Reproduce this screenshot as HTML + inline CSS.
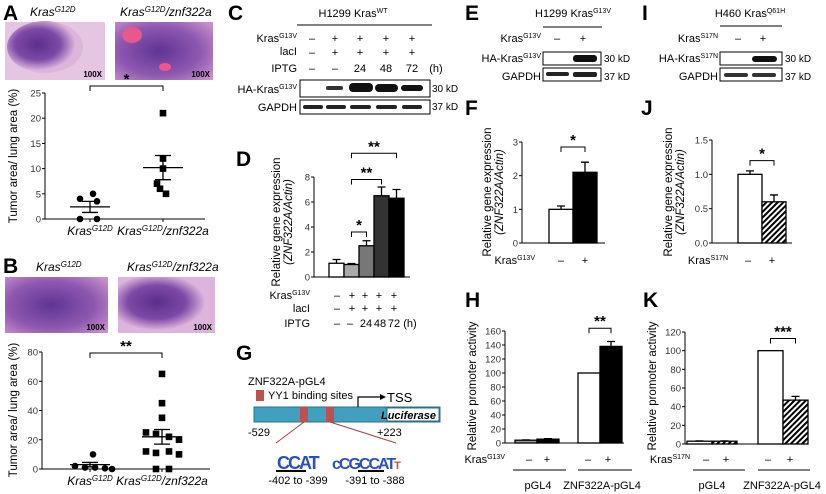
<!DOCTYPE html>
<html><head><meta charset="utf-8"><style>
html,body{margin:0;padding:0;background:#fff;}
svg{display:block;font-family:"Liberation Sans",Arial,sans-serif;}
.pl{font-size:21px;font-weight:bold;}
.tk{font-size:9.5px;fill:#333;}
.lb{font-size:11px;}
.yl{font-size:11.5px;}
</style></head><body>
<svg id="fig" width="826" height="494" viewBox="0 0 826 494" xmlns="http://www.w3.org/2000/svg">
<defs>
<pattern id="hatch" patternUnits="userSpaceOnUse" width="4" height="4" patternTransform="rotate(45)">
<rect width="4" height="4" fill="#fff"/><rect width="2" height="4" fill="#000"/></pattern>
<radialGradient id="tumor1" cx="0.4" cy="0.45" r="0.5"><stop offset="0" stop-color="#5a2f8c"/><stop offset="0.6" stop-color="#7d4aa6"/><stop offset="1" stop-color="#dcb4dc"/></radialGradient>
<radialGradient id="tumor2" cx="0.45" cy="0.5" r="0.7"><stop offset="0" stop-color="#5e3494"/><stop offset="0.6" stop-color="#8e58b0"/><stop offset="1" stop-color="#c890cc"/></radialGradient>
</defs>

<!-- Panel A -->
<g>
<text class="pl" x="3" y="20">A</text>
<text x="30" y="16" font-size="12" font-style="italic">Kras<tspan dy="-4" font-size="8">G12D</tspan></text>
<text x="120" y="16" font-size="12" font-style="italic">Kras<tspan dy="-4" font-size="8">G12D</tspan><tspan dy="4">/znf322a</tspan></text>
<rect x="5" y="22" width="100" height="58" fill="#e5c6e2"/>
<ellipse cx="45" cy="47" rx="38" ry="26" fill="url(#tumor1)"/>
<text x="102" y="77" font-size="8" font-weight="bold" text-anchor="end">100X</text>
<rect x="115" y="22" width="98" height="58" fill="url(#tumor2)"/>
<ellipse cx="132" cy="35" rx="10" ry="8" fill="#e8588a"/>
<ellipse cx="165" cy="67" rx="6" ry="4" fill="#e8588a"/>
<text x="210" y="77" font-size="8" font-weight="bold" text-anchor="end">100X</text>
<text class="yl" transform="translate(17,156) rotate(-90)" text-anchor="middle">Tumor area/ lung area (%)</text>
<g id="chartA"></g>
</g>

<!-- Panel B -->
<g>
<text class="pl" x="3" y="273">B</text>
<text x="36" y="271" font-size="12" font-style="italic">Kras<tspan dy="-4" font-size="8">G12D</tspan></text>
<text x="127" y="271" font-size="12" font-style="italic">Kras<tspan dy="-4" font-size="8">G12D</tspan><tspan dy="4">/znf322a</tspan></text>
<rect x="5" y="277" width="103" height="56" fill="url(#tumor2)"/>
<text x="105" y="330" font-size="8" font-weight="bold" text-anchor="end">100X</text>
<rect x="118" y="277" width="97" height="56" fill="url(#tumor1)"/>
<text x="212" y="330" font-size="8" font-weight="bold" text-anchor="end">100X</text>
<text class="yl" transform="translate(17,410) rotate(-90)" text-anchor="middle">Tumor area/ lung area (%)</text>
<g id="chartB"></g>
</g>

<!-- Panel C -->
<g font-size="11">
<text class="pl" x="228" y="20">C</text>
<text x="353" y="17" text-anchor="middle">H1299 Kras<tspan dy="-4" font-size="7">WT</tspan></text>
<line x1="297" y1="25" x2="432" y2="25" stroke="#000"/>
<text x="297" y="42" text-anchor="end">Kras<tspan dy="-4" font-size="7">G13V</tspan></text>
<text x="297" y="55" text-anchor="end">lacI</text>
<text x="297" y="72" text-anchor="end">IPTG</text>
<g font-size="11" text-anchor="middle">
<text x="312" y="42">–</text><text x="335" y="42">+</text><text x="360" y="42">+</text><text x="386" y="42">+</text><text x="412" y="42">+</text>
<text x="312" y="56">–</text><text x="335" y="56">+</text><text x="360" y="56">+</text><text x="386" y="56">+</text><text x="412" y="56">+</text>
<text x="312" y="72">–</text><text x="335" y="72">–</text><text x="360" y="72">24</text><text x="386" y="72">48</text><text x="412" y="72">72</text>
<text x="436" y="72">(h)</text></g>
<text x="297" y="93" text-anchor="end">HA-Kras<tspan dy="-4" font-size="7">G13V</tspan></text>
<text x="297" y="111" text-anchor="end">GAPDH</text>
<rect x="300" y="80" width="130" height="17" fill="#fff" stroke="#000"/>
<rect x="326" y="86" width="17" height="4" rx="2" fill="#333"/><rect x="349" y="83" width="24" height="9" rx="4" fill="#111"/><rect x="375" y="84" width="23" height="8" rx="4" fill="#111"/><rect x="401" y="85" width="22" height="6" rx="3" fill="#111"/>
<rect x="300" y="100" width="130" height="14" fill="#fff" stroke="#000"/>
<rect x="303" y="105" width="20" height="4" rx="2" fill="#222"/><rect x="326" y="105" width="20" height="4" rx="2" fill="#222"/><rect x="350" y="105" width="21" height="4" rx="2" fill="#222"/><rect x="376" y="105" width="21" height="4" rx="2" fill="#222"/><rect x="402" y="105" width="20" height="4" rx="2" fill="#222"/>
<text x="432" y="92" font-size="10">30 kD</text><text x="432" y="110" font-size="10">37 kD</text>
</g>

<!-- Panel D -->
<g>
<text class="pl" x="236" y="166">D</text>
<text class="yl" transform="translate(280,222) rotate(-90)" text-anchor="middle">Relative gene expression</text>
<text class="yl" transform="translate(292,222) rotate(-90)" text-anchor="middle" font-style="italic">(ZNF322A/Actin)</text>
<g id="chartD"></g>
<g font-size="11">
<text x="310" y="299" text-anchor="end">Kras<tspan dy="-4" font-size="7">G13V</tspan></text>
<text x="310" y="312" text-anchor="end">lacI</text>
<text x="310" y="327" text-anchor="end">IPTG</text>
<g text-anchor="middle">
<text x="337" y="299">–</text><text x="352" y="299">+</text><text x="365" y="299">+</text><text x="379" y="299">+</text><text x="394" y="299">+</text>
<text x="337" y="312">–</text><text x="352" y="312">+</text><text x="365" y="312">+</text><text x="379" y="312">+</text><text x="394" y="312">+</text>
<text x="337" y="327">–</text><text x="350" y="327">–</text><text x="366" y="327">24</text><text x="380" y="327">48</text><text x="394" y="327">72</text><text x="410" y="327">(h)</text>
</g></g>
</g>

<!-- Panel G -->
<g>
<text class="pl" x="236" y="360">G</text>
<text x="248" y="385" font-size="11">ZNF322A-pGL4</text>
<rect x="256" y="390" width="8" height="11" fill="#c0504d"/>
<text x="268" y="399" font-size="11">YY1 binding sites</text>
<rect x="254" y="407" width="186" height="15" fill="#41a0c0" stroke="#2b6f86"/>
<rect x="387" y="408" width="52" height="13" fill="#fff" stroke="#2b6f86"/>
<text x="436" y="419" font-size="11" font-weight="bold" font-style="italic" text-anchor="end">Luciferase</text>
<rect x="300" y="407" width="8" height="15" fill="#c0504d"/>
<rect x="326" y="407" width="8" height="15" fill="#c0504d"/>
<polyline points="358,407 358,397 380,397" fill="none" stroke="#000" stroke-width="1.2"/>
<polygon points="380,394 386,397 380,400" fill="#000"/>
<text x="387" y="402" font-size="13">TSS</text>
<text x="248" y="436" font-size="11">-529</text>
<text x="377" y="436" font-size="11">+223</text>
<line x1="304" y1="422" x2="276" y2="443" stroke="#a04040"/>
<line x1="330" y1="422" x2="396" y2="443" stroke="#a04040"/>
<text x="277" y="469" font-size="18" fill="#2a4fc0" font-weight="bold" letter-spacing="-2">CCAT</text>
<text x="332" y="469" font-size="16" fill="#2a4fc0" font-weight="bold" letter-spacing="-2">cCGCCAT<tspan fill="#c0504d" font-size="11">T</tspan></text>
<line x1="276" y1="471" x2="306" y2="471" stroke="#000" stroke-width="2"/>
<line x1="358" y1="471" x2="384" y2="471" stroke="#000" stroke-width="2"/>
<text x="298" y="484" font-size="11" text-anchor="middle">-402 to -399</text>
<text x="375" y="484" font-size="11" text-anchor="middle">-391 to -388</text>
</g>

<!-- Panel E -->
<g font-size="11">
<text class="pl" x="465" y="20">E</text>
<text x="573" y="17" text-anchor="middle">H1299 Kras<tspan dy="-4" font-size="7">G13V</tspan></text>
<line x1="543" y1="27" x2="602" y2="27" stroke="#000"/>
<text x="541" y="42" text-anchor="end">Kras<tspan dy="-4" font-size="7">G13V</tspan></text>
<text x="557" y="42" text-anchor="middle">–</text><text x="583" y="42" text-anchor="middle">+</text>
<text x="541" y="62" text-anchor="end">HA-Kras<tspan dy="-4" font-size="7">G13V</tspan></text>
<text x="541" y="80" text-anchor="end">GAPDH</text>
<rect x="543" y="52" width="58" height="13" fill="#fff" stroke="#000"/>
<rect x="573" y="55" width="24" height="7" rx="3" fill="#111"/>
<rect x="543" y="68" width="58" height="13" fill="#fff" stroke="#000"/>
<rect x="546" y="72" width="23" height="4" rx="2" fill="#222"/><rect x="573" y="72" width="24" height="5" rx="2" fill="#222"/>
<text x="604" y="62" font-size="10">30 kD</text><text x="604" y="80" font-size="10">37 kD</text>
</g>

<!-- Panel I -->
<g font-size="11">
<text class="pl" x="642" y="20">I</text>
<text x="750" y="17" text-anchor="middle">H460 Kras<tspan dy="-4" font-size="7">Q61H</tspan></text>
<line x1="720" y1="26" x2="782" y2="26" stroke="#000"/>
<text x="718" y="42" text-anchor="end">Kras<tspan dy="-4" font-size="7">S17N</tspan></text>
<text x="738" y="42" text-anchor="middle">–</text><text x="763" y="42" text-anchor="middle">+</text>
<text x="718" y="62" text-anchor="end">HA-Kras<tspan dy="-4" font-size="7">S17N</tspan></text>
<text x="718" y="80" text-anchor="end">GAPDH</text>
<rect x="720" y="52" width="62" height="13" fill="#fff" stroke="#000"/>
<rect x="752" y="56" width="25" height="6" rx="3" fill="#111"/>
<rect x="720" y="68" width="62" height="13" fill="#fff" stroke="#000"/>
<rect x="724" y="73" width="24" height="4" rx="2" fill="#333"/><rect x="752" y="73" width="24" height="4" rx="2" fill="#333"/>
<text x="785" y="62" font-size="10">30 kD</text><text x="785" y="80" font-size="10">37 kD</text>
</g>

<!-- Panel F -->
<g>
<text class="pl" x="465" y="115">F</text>
<text class="yl" transform="translate(491,192) rotate(-90)" text-anchor="middle">Relative gene expression</text>
<text class="yl" transform="translate(503,192) rotate(-90)" text-anchor="middle" font-style="italic">(ZNF322A/Actin)</text>
<g id="chartF"></g>
<text x="535" y="264" font-size="11" text-anchor="end">Kras<tspan dy="-4" font-size="7">G13V</tspan></text>
<text x="561" y="264" font-size="11" text-anchor="middle">–</text><text x="585" y="264" font-size="11" text-anchor="middle">+</text>
</g>

<!-- Panel J -->
<g>
<text class="pl" x="641" y="115">J</text>
<text class="yl" transform="translate(672,192) rotate(-90)" text-anchor="middle">Relative gene expression</text>
<text class="yl" transform="translate(684,192) rotate(-90)" text-anchor="middle" font-style="italic">(ZNF322A/Actin)</text>
<g id="chartJ"></g>
<text x="728" y="264" font-size="11" text-anchor="end">Kras<tspan dy="-4" font-size="7">S17N</tspan></text>
<text x="748" y="264" font-size="11" text-anchor="middle">–</text><text x="772" y="264" font-size="11" text-anchor="middle">+</text>
</g>

<!-- Panel H -->
<g>
<text class="pl" x="465" y="307">H</text>
<text class="yl" transform="translate(476,386) rotate(-90)" text-anchor="middle">Relative promoter activity</text>
<g id="chartH"></g>
<g font-size="11">
<text x="505" y="463" text-anchor="end">Kras<tspan dy="-4" font-size="7">G13V</tspan></text>
<g text-anchor="middle"><text x="529" y="463">–</text><text x="547" y="463">+</text><text x="588" y="463">–</text><text x="608" y="463">+</text></g>
<line x1="513" y1="470" x2="566" y2="470" stroke="#000"/><line x1="578" y1="470" x2="632" y2="470" stroke="#000"/>
<text x="538" y="489" text-anchor="middle">pGL4</text><text x="602" y="489" text-anchor="middle">ZNF322A-pGL4</text>
</g>
</g>

<!-- Panel K -->
<g>
<text class="pl" x="643" y="307">K</text>
<text class="yl" transform="translate(656,386) rotate(-90)" text-anchor="middle">Relative promoter activity</text>
<g id="chartK"></g>
<g font-size="11">
<text x="690" y="463" text-anchor="end">Kras<tspan dy="-4" font-size="7">S17N</tspan></text>
<g text-anchor="middle"><text x="706" y="463">–</text><text x="726" y="463">+</text><text x="768" y="463">–</text><text x="790" y="463">+</text></g>
<line x1="693" y1="470" x2="745" y2="470" stroke="#000"/><line x1="758" y1="470" x2="810" y2="470" stroke="#000"/>
<text x="712" y="489" text-anchor="middle">pGL4</text><text x="782" y="489" text-anchor="middle">ZNF322A-pGL4</text>
</g>
</g>
</svg>

<script>
// ---- data ----
const A_categories = ["Kras<G12D>", "Kras<G12D>/znf322a"];
const A_kras = [5, 4, 3.5, 0, 0];
const A_znf = [21, 12, 10, 7, 6, 5];
const A_mean = [2.4, 10.2];
const A_sem = [1.1, 2.4];
const A_ticks = [0, 5, 10, 15, 20, 25];

const B_kras = [10, 2, 1, 1, 0.5, 0];
const B_znf = [65, 45, 35, 25, 24, 22, 20, 12, 12, 11, 10, 0, 0];
const B_mean = [3, 22];
const B_sem = [1.5, 5];
const B_ticks = [0, 20, 40, 60, 80];

const D_values = [1.1, 1.0, 2.5, 6.5, 6.3];
const D_err = [0.3, 0.08, 0.4, 0.7, 0.7];
const D_ticks = [0, 2, 4, 6, 8];

const F_values = [1.0, 2.1];
const F_err = [0.1, 0.3];
const F_ticks = [0, 1, 2, 3];

const J_values = [1.0, 0.6];
const J_err = [0.05, 0.1];
const J_ticks = ["0.0", "0.5", "1.0", "1.5"];

const H_values = [4, 5.5, 100, 138];
const H_err = [0.5, 0.8, 0, 7];
const H_ticks = [0, 20, 40, 60, 80, 100, 120, 140, 160];

const K_values = [3, 3, 100, 47];
const K_err = [0.3, 0.3, 0, 4];
const K_ticks = [0, 20, 40, 60, 80, 100, 120];

const NS = "http://www.w3.org/2000/svg";
function mk(parent, tag, attrs) {
  const e = document.createElementNS(NS, tag);
  for (const k in attrs) e.setAttribute(k, attrs[k]);
  parent.appendChild(e);
  return e;
}
function linScale(d0, d1, r0, r1) { return v => r0 + (v - d0) / (d1 - d0) * (r1 - r0); }

function yAxis(g, x, yS, ticks, prefix) {
  const ax = mk(g, "line", {x1: x, x2: x, y1: yS(+ticks[ticks.length-1]), y2: yS(+ticks[0]), stroke: "#000"});
  
  
  ticks.forEach(t => {
    const y = yS(+t);
    mk(g, "line", {x1: x - 3, x2: x, y1: y, y2: y, stroke: "#000"});
    const tx = mk(g, "text", {x: x - 4, y: y + 3.5, "text-anchor": "end", class: "tk"});
    tx.textContent = t;
    
    
  });
}
function bracket(g, x1, x2, y, label, prefix) {
  const p = mk(g, "path", {d: `M${x1},${y+5} V${y} H${x2} V${y+5}`, fill: "none", stroke: "#000"});
  
  
  const t = mk(g, "text", {x: (x1 + x2) / 2, y: y - 2, "text-anchor": "middle", "font-size": 15, "font-weight": "bold"});
  t.textContent = label;
  
  
}

function barChart(id, opts) {
  const g = document.getElementById(id);
  const yS = linScale(0, opts.max, opts.y0, opts.y1);
  mk(g, "line", {x1: opts.ax, x2: opts.axEnd, y1: opts.y0, y2: opts.y0, stroke: "#000"});
  yAxis(g, opts.ax, yS, opts.ticks, opts.prefix);
  const xs = [];
  opts.values.forEach((v, i) => {
    const x = opts.start + i * opts.w + (opts.groupGap && i >= 2 ? opts.groupGap : 0);
    xs.push(x);
    const top = yS(v + opts.err[i]);
    if (opts.err[i] > 0) {
      const eb = mk(g, "path", {d: `M${x + opts.w/2},${yS(v)} V${top} M${x + opts.w/2 - 4},${top} H${x + opts.w/2 + 4}`, stroke: "#000", "stroke-width": 1.3, fill: "none"});
      
      
    }
    const r = mk(g, "rect", {x: x, y: yS(v), width: opts.w, height: opts.y0 - yS(v), fill: opts.fills[i], stroke: "#000", "stroke-width": 1.3});
    
    
  });
  (opts.brackets || []).forEach(b => {
    const yb = yS(b.at);
    bracket(g, xs[b.a] + opts.w/2, xs[b.b] + opts.w/2, yb, b.label, opts.prefix);
  });
}

function scatter(id, opts) {
  const g = document.getElementById(id);
  const yS = linScale(0, opts.max, opts.y0, opts.y1);
  mk(g, "line", {x1: opts.ax, x2: opts.axEnd, y1: opts.y0, y2: opts.y0, stroke: "#000"});
  yAxis(g, opts.ax, yS, opts.ticks, opts.prefix);
  opts.centers.forEach((cx, k) => {
    mk(g, "line", {x1: cx, x2: cx, y1: opts.y0, y2: opts.y0 + 3, stroke: "#000"});
    const lab = mk(g, "text", {x: cx, y: opts.y0 + 16, "text-anchor": "middle", "font-size": 12, "font-style": "italic"});
    lab.innerHTML = 'Kras<tspan dy="-4" font-size="8">G12D</tspan>' + (k ? '<tspan dy="4">/znf322a</tspan>' : '');
    
    
  });
  opts.sets.forEach((vals, k) => {
    const cx = opts.centers[k];
    vals.forEach((v, i) => {
      const x = cx + opts.jitter[k][i % opts.jitter[k].length];
      let pt;
      if (k === 0) pt = mk(g, "circle", {cx: x, cy: yS(v), r: 3.3, fill: "#000"});
      else pt = mk(g, "rect", {x: x - 3.3, y: yS(v) - 3.3, width: 6.6, height: 6.6, fill: "#000"});
      
      
    });
    const m = opts.mean[k], s = opts.sem[k];
    const ml = mk(g, "path", {d: `M${cx-20},${yS(m)} H${cx+20} M${cx-8},${yS(m+s)} H${cx+8} M${cx-8},${yS(m-s)} H${cx+8} M${cx},${yS(m-s)} V${yS(m+s)}`, stroke: "#000", "stroke-width": 1.3, fill: "none"});
    
    
  });
  bracket(g, opts.centers[0], opts.centers[1], opts.bracketY, opts.stars, opts.prefix);
}

scatter("chartA", {prefix: "a", ax: 45, axEnd: 205, y0: 219, y1: 93, max: 25, ticks: A_ticks,
  centers: [90, 163], sets: [A_kras, A_znf], mean: A_mean, sem: A_sem,
  jitter: [[3, -10, 7, -10, 7], [0, 0, 0, -6, -3, 3]], bracketY: 86, stars: "*"});
scatter("chartB", {prefix: "b", ax: 42, axEnd: 210, y0: 469, y1: 352, max: 80, ticks: B_ticks,
  centers: [90, 162], sets: [B_kras, B_znf], mean: B_mean, sem: B_sem,
  jitter: [[3, -15, -5, 5, 15, 22], [0, 0, 0, -16, -6, 7, 17, -16, 7, -6, 17, -6, 7]], bracketY: 353, stars: "**"});

barChart("chartD", {prefix: "d", ax: 314, axEnd: 410, y0: 277, y1: 177, max: 8, ticks: D_ticks,
  values: D_values, err: D_err, start: 329, w: 15,
  fills: ["#fff", "#aaa", "#777", "#333", "#000"],
  brackets: [{a: 1, b: 4, at: 9.9, label: "**"}, {a: 1, b: 3, at: 7.8, label: "**"}, {a: 1, b: 2, at: 3.6, label: "*"}]});
barChart("chartF", {prefix: "f", ax: 522, axEnd: 605, y0: 243, y1: 142, max: 3, ticks: F_ticks,
  values: F_values, err: F_err, start: 549, w: 24, fills: ["#fff", "#000"],
  brackets: [{a: 0, b: 1, at: 2.85, label: "*"}]});
barChart("chartJ", {prefix: "j", ax: 712, axEnd: 792, y0: 243, y1: 140, max: 1.5, ticks: J_ticks,
  values: J_values, err: J_err, start: 738, w: 24, fills: ["#fff", "url(#hatch)"],
  brackets: [{a: 0, b: 1, at: 1.2, label: "*"}]});
barChart("chartH", {prefix: "h", ax: 505, axEnd: 624, y0: 443, y1: 331, max: 160, ticks: H_ticks,
  values: H_values, err: H_err, start: 515, w: 22, groupGap: 19, fills: ["#999", "#000", "#fff", "#000"],
  brackets: [{a: 2, b: 3, at: 164, label: "**"}]});
barChart("chartK", {prefix: "k", ax: 685, axEnd: 805, y0: 444, y1: 332, max: 120, ticks: K_ticks,
  values: K_values, err: K_err, start: 687, w: 25, groupGap: 21, fills: ["#fff", "url(#hatch)", "#fff", "url(#hatch)"],
  brackets: [{a: 2, b: 3, at: 113, label: "***"}]});
</script>
</body></html>
